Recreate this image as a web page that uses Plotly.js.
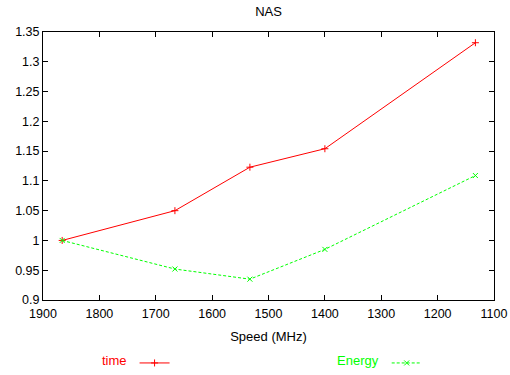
<!DOCTYPE html>
<html>
<head>
<meta charset="utf-8">
<script src="https://cdn.plot.ly/plotly-3.0.1.min.js"></script>
<style>html,body{margin:0;padding:0;background:#fff}#chart{width:510px;height:375px}</style>
</head>
<body>
<div id="chart"></div>
<script>
const speeds = [1866, 1666, 1533, 1400, 1133];
const timeVals = [1.0, 1.05, 1.123, 1.154, 1.332];
const energyVals = [1.0, 0.952, 0.935, 0.985, 1.109];
const xTicks = [1900, 1800, 1700, 1600, 1500, 1400, 1300, 1200, 1100];
const yTicks = [0.9, 0.95, 1, 1.05, 1.1, 1.15, 1.2, 1.25, 1.3, 1.35];
const yTickText = ['0.9', '0.95', '1', '1.05', '1.1', '1.15', '1.2', '1.25', '1.3', '1.35'];

const font = 'Liberation Sans, Arial, sans-serif';

const traces = [
  {
    x: speeds, y: timeVals, name: ' ', type: 'scatter', mode: 'lines+markers',
    line: {color: '#ff0000', width: 1},
    marker: {symbol: 'cross-thin', size: 5, color: '#ff0000', line: {color: '#ff0000', width: 1}},
    legend: 'legend'
  },
  {
    x: speeds, y: energyVals, name: ' ', type: 'scatter', mode: 'lines+markers',
    line: {color: '#00ff00', width: 1, dash: '3px,2px'},
    marker: {symbol: 'x-thin', size: 5, color: '#00ff00', line: {color: '#00ff00', width: 1}},
    legend: 'legend2'
  }
];

const axisCommon = {
  showgrid: false, zeroline: false, showline: true, linecolor: '#000', linewidth: 1,
  mirror: 'allticks', ticks: 'inside', ticklen: 5, tickcolor: '#000', tickwidth: 1,
  tickfont: {family: font, size: 12.5, color: '#000'}
};

const layout = {
  width: 510, height: 375,
  margin: {l: 43, r: 16, t: 32, b: 75},
  paper_bgcolor: '#fff', plot_bgcolor: '#fff',
  title: {text: 'NAS', font: {family: font, size: 13, color: '#000'}, x: 0.5, xref: 'paper', y: 1 - 11/375, yref: 'container', yanchor: 'middle'},
  xaxis: Object.assign({}, axisCommon, {
    range: [1900, 1100], tickvals: xTicks, ticktext: xTicks.map(String), ticklabelstandoff: 2,
    title: {text: 'Speed (MHz)', font: {family: font, size: 13, color: '#000'}, standoff: 11}
  }),
  yaxis: Object.assign({}, axisCommon, {
    range: [0.9, 1.35], tickvals: yTicks, ticktext: yTickText
  }),
  showlegend: true,
  legend: {
    xref: 'container', yref: 'container', x: 100/510, y: 1 - 363/375, xanchor: 'left', yanchor: 'middle',
    orientation: 'h', bgcolor: 'rgba(0,0,0,0)', borderwidth: 0,
    title: {text: 'time', side: 'left', font: {family: font, size: 13, color: '#ff0000'}},
    font: {family: font, size: 13}
  },
  legend2: {
    xref: 'container', yref: 'container', x: 335/510, y: 1 - 363/375, xanchor: 'left', yanchor: 'middle',
    orientation: 'h', bgcolor: 'rgba(0,0,0,0)', borderwidth: 0,
    title: {text: 'Energy', side: 'left', font: {family: font, size: 13, color: '#00ff00'}},
    font: {family: font, size: 13}
  }
};

Plotly.newPlot('chart', traces, layout, {displayModeBar: false, staticPlot: true});
</script>
</body>
</html>
